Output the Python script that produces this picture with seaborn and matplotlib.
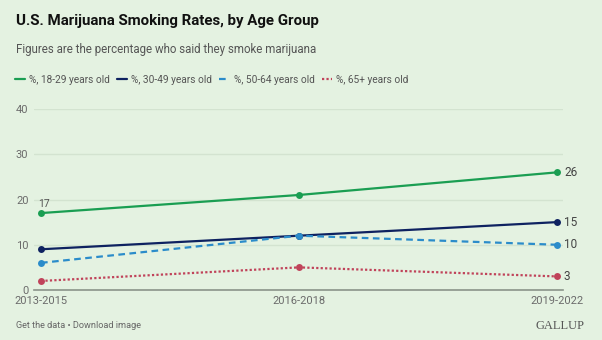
import matplotlib
matplotlib.use("Agg")
import matplotlib.pyplot as plt
import seaborn as sns
import pandas as pd

periods = ["2013-2015", "2016-2018", "2019-2022"]
series_names = ["%, 18-29 years old", "%, 30-49 years old", "%, 50-64 years old", "%, 65+ years old"]
age_18_29 = [17, 21, 26]
age_30_49 = [9, 12, 15]
age_50_64 = [6, 12, 10]
age_65_plus = [2, 5, 3]
y_ticks = [0, 10, 20, 30, 40]

colors = ["#1a9e52", "#0e2260", "#2b8cca", "#c0435a"]
dash_styles = ["", "", (3, 2), (1, 1)]

values = [age_18_29, age_30_49, age_50_64, age_65_plus]
rows = []
for name, vals in zip(series_names, values):
    for i, (p, v) in enumerate(zip(periods, vals)):
        rows.append({"period": p, "x": i, "value": v, "series": name})
df = pd.DataFrame(rows)

bg = "#e4f2e1"
sns.set_theme(style="white")
plt.rcParams["font.family"] = ["Roboto", "DejaVu Sans"]

fig = plt.figure(figsize=(6.02, 3.40), dpi=100)
fig.patch.set_facecolor(bg)
W, H = 602, 340
ax = fig.add_axes([34 / W, 1 - 290 / H, (563 - 34) / W, (290 - 109) / H])
ax.set_facecolor(bg)

sns.lineplot(data=df, x="x", y="value", hue="series", style="series",
             palette=colors, dashes=dash_styles, markers=["o"] * 4,
             markersize=5, markeredgewidth=0, linewidth=1.6, ax=ax)

ax.set_xlim(-7 / 258, 2 + 6 / 258)
ax.set_ylim(0, 40)
ax.set_yticks(y_ticks)
ax.set_xticks(range(len(periods)))
ax.set_xticklabels(periods)
ax.set_xlabel("")
ax.set_ylabel("")
for s in ["top", "right", "left"]:
    ax.spines[s].set_visible(False)
ax.spines["bottom"].set_color("#8a948a")
ax.spines["bottom"].set_linewidth(1.2)
ax.grid(axis="y", color="#d3e3d0", linewidth=1)
ax.set_axisbelow(True)
ax.tick_params(axis="both", length=0, labelsize=8, colors="#6b6b6b")
ax.tick_params(axis="y", pad=4)
ax.tick_params(axis="x", pad=4)

# value labels
ax.annotate(str(age_18_29[0]), (0, age_18_29[0]), xytext=(2, 3), textcoords="offset points",
            ha="center", va="bottom", fontsize=7.5, color="#555555")
for vals in values:
    ax.annotate(str(vals[-1]), (2, vals[-1]), xytext=(5, 0), textcoords="offset points",
                ha="left", va="center", fontsize=8.5, color="#444444")

sns.move_legend(ax, "upper left", bbox_to_anchor=(15 / W, 1 - 75 / H),
                bbox_transform=fig.transFigure, ncol=4, frameon=False, title=None,
                fontsize=7.3, handlelength=1.0, handletextpad=0.4, columnspacing=0.7,
                borderaxespad=0, borderpad=0)
leg = ax.get_legend()
for t in leg.get_texts():
    t.set_color("#555555")
for h in leg.legend_handles:
    h.set_marker("")

fig.text(16 / W, 1 - 21 / H, "U.S. Marijuana Smoking Rates, by Age Group",
         fontsize=10.8, fontweight="bold", color="#111111", va="center", ha="left")
fig.text(16 / W, 1 - 49 / H, "Figures are the percentage who said they smoke marijuana",
         fontsize=8.3, color="#555555", va="center", ha="left")
fig.text(16 / W, 1 - 326 / H, "Get the data \u2022 Download image",
         fontsize=6.6, color="#666666", va="center", ha="left")
fig.text(584 / W, 1 - 326 / H, "GALLUP", fontsize=9, color="#555555",
         va="center", ha="right", family=["Liberation Serif", "DejaVu Serif"])

fig.savefig("out.png", dpi=100, facecolor=bg)
